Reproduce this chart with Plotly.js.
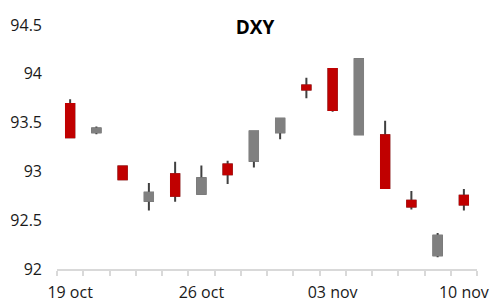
<!DOCTYPE html>
<html>
<head>
<meta charset="utf-8">
<script src="https://cdn.plot.ly/plotly-3.0.1.min.js"></script>
<style>html,body{margin:0;padding:0;background:#fff;}#chart{width:500px;height:307px;}</style>
</head>
<body>
<div id="chart"></div>
<script>
const dates = ["19 oct","20 oct","21 oct","22 oct","23 oct","26 oct","27 oct","28 oct","29 oct","30 oct","03 nov","04 nov","05 nov","06 nov","09 nov","10 nov"];
const openV  = [93.69, 93.40, 93.05, 92.70, 92.97, 92.77, 93.07, 93.11, 93.40, 93.88, 94.05, 93.38, 93.37, 92.70, 92.14, 92.75];
const highV  = [93.74, 93.46, 93.05, 92.88, 93.10, 93.06, 93.11, 93.41, 93.54, 93.96, 94.05, 94.15, 93.52, 92.80, 92.37, 92.82];
const lowV   = [93.35, 93.38, 92.92, 92.60, 92.69, 92.77, 92.87, 93.04, 93.33, 93.75, 93.61, 93.38, 92.83, 92.61, 92.12, 92.60];
const closeV = [93.35, 93.44, 92.92, 92.78, 92.75, 92.93, 92.97, 93.41, 93.54, 93.84, 93.63, 94.15, 92.83, 92.64, 92.34, 92.66];
const labelDates = ["19 oct","26 oct","03 nov","10 nov"];

const idx = dates.map((d, i) => i);
const bodyHigh = openV.map((o, i) => Math.max(o, closeV[i]));
const bodyLow = openV.map((o, i) => Math.min(o, closeV[i]));

const upColor = "#808080", downColor = "#C00000", wickColor = "#404040";

const wicks = {
  type: "candlestick", x: idx, open: openV, high: highV, low: lowV, close: closeV,
  increasing: {line: {color: wickColor, width: 2}, fillcolor: upColor},
  decreasing: {line: {color: wickColor, width: 2}, fillcolor: downColor},
  hoverinfo: "skip", showlegend: false
};
const bodies = {
  type: "candlestick", x: idx, open: openV, high: bodyHigh, low: bodyLow, close: closeV,
  increasing: {line: {color: upColor, width: 2}, fillcolor: upColor},
  decreasing: {line: {color: downColor, width: 2}, fillcolor: downColor},
  hoverinfo: "skip", showlegend: false
};

const layout = {
  width: 500, height: 307,
  margin: {l: 57, r: 23, t: 25, b: 38},
  paper_bgcolor: "#fff", plot_bgcolor: "#fff",
  showlegend: false,
  boxgap: 0.55,
  font: {family: "Open Sans, sans-serif", size: 16, color: "#1a1a1a"},
  title: {text: "<b>DXY</b>", x: 0.51, xanchor: "center", y: 0.91, yanchor: "middle",
          font: {family: "Open Sans, sans-serif", size: 19, color: "#000"}},
  xaxis: {
    type: "linear", range: [-0.5, 15.5], rangeslider: {visible: false},
    tickmode: "array", tickvals: labelDates.map(d => dates.indexOf(d)), ticktext: labelDates,
    ticks: "", showgrid: false, zeroline: false,
    showline: true, linecolor: "#d9d9d9", linewidth: 2,
    minor: {tick0: -0.5, dtick: 1, ticks: "outside", ticklen: 5, tickwidth: 2, tickcolor: "#d9d9d9", showgrid: false},
    ticklabelstandoff: 8,
    fixedrange: true
  },
  yaxis: {
    range: [92, 94.5], tickmode: "linear", tick0: 92, dtick: 0.5,
    showgrid: false, zeroline: false, showline: false, ticks: "",
    ticklabelstandoff: 14, fixedrange: true
  }
};

Plotly.newPlot("chart", [wicks, bodies], layout, {displayModeBar: false, staticPlot: true});
</script>
</body>
</html>
